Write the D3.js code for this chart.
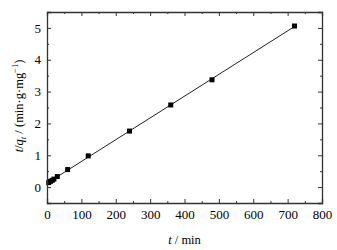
<!DOCTYPE html>
<html>
<head>
<meta charset="utf-8">
<script src="https://cdn.jsdelivr.net/npm/d3@7"></script>
<style>
  body { margin: 0; background: #fff; }
  text { font-family: "Liberation Serif", "Times New Roman", serif; }
</style>
</head>
<body>
<div id="chart"></div>
<script>
// data
const tValues = [5, 10, 15, 20, 30, 60, 120, 240, 360, 480, 720];
const tqValues = [0.14, 0.18, 0.21, 0.25, 0.33, 0.55, 0.98, 1.76, 2.58, 3.37, 5.06];
const xTicks = [0, 100, 200, 300, 400, 500, 600, 700, 800];
const yTicks = [0, 1, 2, 3, 4, 5];

const width = 337, height = 250;
const margin = { top: 12, right: 15, bottom: 47, left: 47 };

const svg = d3.select("#chart").append("svg")
    .attr("width", width)
    .attr("height", height);

const x = d3.scaleLinear().domain([0, 800]).range([margin.left, width - margin.right]);
const y = d3.scaleLinear().domain([-0.5, 5.5]).range([height - margin.bottom, margin.top]);

// linear fit
const mx = d3.mean(tValues), my = d3.mean(tqValues);
let sxy = 0, sxx = 0;
tValues.forEach((t, i) => { sxy += (t - mx) * (tqValues[i] - my); sxx += (t - mx) * (t - mx); });
const slope = sxy / sxx, icpt = my - slope * mx;

const fitLine = d3.line().x(d => x(d)).y(d => y(icpt + slope * d));
svg.append("path")
    .datum([0, 720])
    .attr("d", fitLine)
    .attr("fill", "none")
    .attr("stroke", "#222")
    .attr("stroke-width", 1);

// points
svg.selectAll(".pt")
    .data(tValues)
    .enter().append("rect")
    .attr("class", "pt")
    .attr("x", d => x(d) - 2.5)
    .attr("y", (d, i) => y(tqValues[i]) - 2.5)
    .attr("width", 5)
    .attr("height", 5)
    .attr("fill", "#000");

// axes, ticks inward
const xMinor = d3.range(50, 800, 100);
const yMinor = d3.range(-0.5, 5.6, 1);

function axisStyle(g) {
    g.select(".domain").attr("stroke", "#333").attr("stroke-width", 1.3);
    g.selectAll(".tick line").attr("stroke", "#333");
    g.selectAll("text").style("font-size", "13px").attr("fill", "#000");
}

svg.append("g")
    .attr("transform", `translate(0,${y.range()[0]})`)
    .call(d3.axisBottom(x).tickValues(xTicks).tickSize(-4).tickPadding(7).tickFormat(d3.format("d")))
    .call(axisStyle);
svg.append("g")
    .attr("transform", `translate(0,${y.range()[0]})`)
    .call(d3.axisBottom(x).tickValues(xMinor).tickSize(-2).tickFormat(""))
    .call(g => g.select(".domain").remove())
    .call(axisStyle);

svg.append("g")
    .attr("transform", `translate(0,${y.range()[1]})`)
    .call(d3.axisTop(x).tickValues(xTicks).tickSize(-4).tickFormat(""))
    .call(axisStyle);
svg.append("g")
    .attr("transform", `translate(0,${y.range()[1]})`)
    .call(d3.axisTop(x).tickValues(xMinor).tickSize(-2).tickFormat(""))
    .call(g => g.select(".domain").remove())
    .call(axisStyle);

svg.append("g")
    .attr("transform", `translate(${x.range()[0]},0)`)
    .call(d3.axisLeft(y).tickValues(yTicks).tickSize(-4).tickPadding(6).tickFormat(d3.format("d")))
    .call(axisStyle);
svg.append("g")
    .attr("transform", `translate(${x.range()[0]},0)`)
    .call(d3.axisLeft(y).tickValues(yMinor).tickSize(-2).tickFormat(""))
    .call(g => g.select(".domain").remove())
    .call(axisStyle);

svg.append("g")
    .attr("transform", `translate(${x.range()[1]},0)`)
    .call(d3.axisRight(y).tickValues(yTicks).tickSize(-4).tickFormat(""))
    .call(axisStyle);
svg.append("g")
    .attr("transform", `translate(${x.range()[1]},0)`)
    .call(d3.axisRight(y).tickValues(yMinor).tickSize(-2).tickFormat(""))
    .call(g => g.select(".domain").remove())
    .call(axisStyle);

// axis titles
const xt = svg.append("text")
    .attr("x", (x.range()[0] + x.range()[1]) / 2)
    .attr("y", 244)
    .attr("text-anchor", "middle")
    .style("font-size", "12.5px");
xt.append("tspan").style("font-style", "italic").text("t");
xt.append("tspan").text(" / min");

const yt = svg.append("text")
    .attr("transform", `translate(23,106) rotate(-90)`)
    .attr("text-anchor", "middle")
    .style("font-size", "12.5px");
yt.append("tspan").style("font-style", "italic").text("t");
yt.append("tspan").text("/");
yt.append("tspan").style("font-style", "italic").text("q");
yt.append("tspan").style("font-style", "italic").attr("dy", 3).style("font-size", "8.5px").text("t");
yt.append("tspan").attr("dy", -3).text(" / (min·g·mg");
yt.append("tspan").attr("dy", -5).style("font-size", "8.5px").text("−1");
yt.append("tspan").attr("dy", 5).text(")");
</script>
</body>
</html>
